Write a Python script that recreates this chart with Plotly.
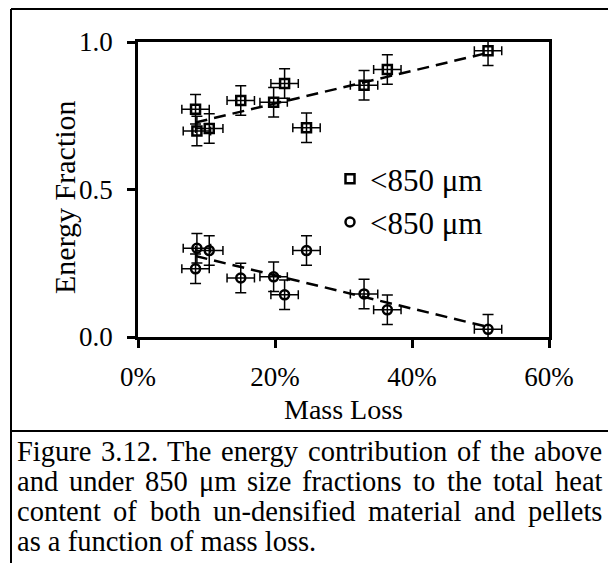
import numpy as np
import plotly.graph_objects as go

# Mass loss (%) for each sample, with the energy fraction of each size class
mass_loss = [8.4, 8.6, 10.4, 15.0, 19.8, 21.4, 24.6, 33.0, 36.4, 51.1]
frac_coarse = [0.772, 0.698, 0.707, 0.802, 0.796, 0.859, 0.709, 0.853, 0.907, 0.970]
frac_fine = [0.231, 0.301, 0.293, 0.200, 0.204, 0.143, 0.293, 0.146, 0.092, 0.026]
mass_err = 2.0
frac_err = 0.05

legend_labels = ["<850 μm", "<850 μm"]
x_tick_vals = [0, 20, 40, 60]
x_tick_text = ["0%", "20%", "40%", "60%"]
y_tick_vals = [0.0, 0.5, 1.0]
y_tick_text = ["0.0", "0.5", "1.0"]
x_title = "Mass Loss"
y_title = "Energy Fraction"
caption_lines = [
    "Figure 3.12. The energy contribution of the above",
    "and under 850 μm size fractions to the total heat",
    "content of both un-densified material and pellets",
    "as a function of mass loss.",
]

W, H = 608, 563
L, R, T, B = 138, 549, 42, 337
FONT = "Liberation Serif, Times New Roman, serif"
CAP_SIZE = 28.5
CAP_LEFT, CAP_RIGHT = 15, 600


def px(xp):
    return (xp - L) / (R - L)


def py(yp):
    return (B - yp) / (B - T)


# Advance widths (per 1000 em) of the Times-metric serif face, for justifying the caption
GLYPH_W = {" ": 250, "-": 333, ".": 250, "F": 556, "T": 611, "μ": 500,
           "a": 444, "b": 500, "c": 444, "d": 500, "e": 444, "f": 333, "g": 500,
           "h": 500, "i": 278, "j": 278, "k": 500, "l": 278, "m": 778, "n": 500,
           "o": 500, "p": 500, "q": 500, "r": 333, "s": 389, "t": 278, "u": 500,
           "v": 500, "w": 722, "x": 500, "y": 500, "z": 444}


def text_width(s, size):
    return sum(GLYPH_W.get(ch, 500) for ch in s) * size / 1000.0


fig = go.Figure()

err_style = dict(type="constant", color="black", thickness=1.5)
for vals, sym, name in [(frac_coarse, "square-open", legend_labels[0]),
                        (frac_fine, "circle-open", legend_labels[1])]:
    fig.add_trace(go.Scatter(
        x=mass_loss, y=vals, mode="markers", name=name, legendgroup=name + sym,
        marker=dict(symbol=sym, size=9, color="black", line=dict(width=2.5, color="black")),
        error_x=dict(value=mass_err, width=4.5, **err_style),
        error_y=dict(value=frac_err, width=5.5, **err_style),
    ))

# linear trend lines over the sampled range
xs = np.array([min(mass_loss), max(mass_loss)])
for vals in (frac_coarse, frac_fine):
    k, b = np.polyfit(mass_loss, vals, 1)
    fig.add_trace(go.Scatter(
        x=xs, y=k * xs + b, mode="lines", showlegend=False, hoverinfo="skip",
        line=dict(color="black", width=2.5, dash="12px,7px"),
    ))

axis_common = dict(
    showline=True, linecolor="black", linewidth=2.5, mirror=True,
    ticks="outside", ticklen=8, tickwidth=2.5, tickcolor="black",
    showgrid=False, zeroline=False,
    tickfont=dict(family=FONT, size=27, color="black"),
)
fig.update_xaxes(range=[0, 60], tickvals=x_tick_vals, ticktext=x_tick_text,
                 ticklabelstandoff=6, **axis_common)
fig.update_yaxes(range=[0, 1], tickvals=y_tick_vals, ticktext=y_tick_text,
                 ticklabelstandoff=9, **axis_common)

annotations = [
    dict(text=x_title, x=px(343), y=py(409), xref="paper", yref="paper",
         xanchor="center", yanchor="middle",
         showarrow=False, font=dict(family=FONT, size=28, color="black")),
    dict(text=y_title, x=px(65), y=py(197), xref="paper", yref="paper", textangle=-90,
         xanchor="center", yanchor="middle",
         showarrow=False, font=dict(family=FONT, size=30, color="black")),
]

# caption: justified lines, last line left-aligned
cap_font = dict(family=FONT, size=CAP_SIZE, color="black")
for i, line in enumerate(caption_lines):
    yc = py(451 + 30 * i)
    words = line.split(" ")
    if i == len(caption_lines) - 1 or len(words) < 2:
        annotations.append(dict(text=line, x=px(CAP_LEFT), y=yc, xref="paper", yref="paper",
                                xanchor="left", yanchor="middle", showarrow=False, font=cap_font))
        continue
    widths = [text_width(w, CAP_SIZE) for w in words]
    gap = (CAP_RIGHT - CAP_LEFT - sum(widths)) / (len(words) - 1)
    xpos = CAP_LEFT
    for w, wd in zip(words, widths):
        annotations.append(dict(text=w, x=px(xpos), y=yc, xref="paper", yref="paper",
                                xanchor="left", yanchor="middle", showarrow=False, font=cap_font))
        xpos += wd + gap

frame = dict(type="line", xref="paper", yref="paper", line=dict(color="black", width=2))
shapes = [
    dict(x0=px(11), x1=px(620), y0=py(9), y1=py(9), **frame),
    dict(x0=px(11), x1=px(11), y0=py(9), y1=py(580), **frame),
    dict(x0=px(11), x1=px(620), y0=py(431), y1=py(431), **frame),
]

fig.update_layout(
    width=W, height=H,
    margin=dict(l=L, r=W - R, t=T, b=H - B),
    paper_bgcolor="white", plot_bgcolor="white",
    font=dict(family=FONT, size=26, color="black"),
    showlegend=True,
    legend=dict(x=px(330), y=py(152), xanchor="left", yanchor="top",
                bgcolor="rgba(0,0,0,0)", tracegroupgap=0,
                font=dict(family=FONT, size=31, color="black")),
    annotations=annotations,
    shapes=shapes,
)

fig.write_html("out.html")
